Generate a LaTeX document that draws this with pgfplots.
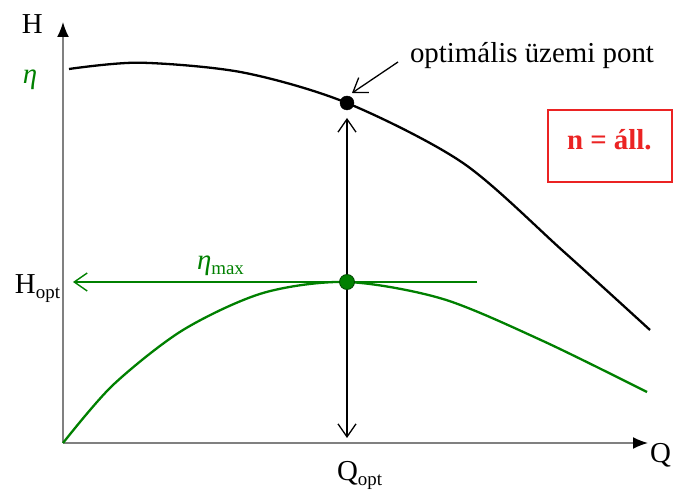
\documentclass[border=0pt]{standalone}
\usepackage{fontspec}
\setmainfont{Liberation Serif}
\usepackage{pgfplots}
\pgfplotsset{compat=1.18}
\usetikzlibrary{arrows.meta}
\definecolor{cgreen}{RGB}{0,128,0}
\definecolor{cdkgreen}{RGB}{0,70,0}
\definecolor{cred}{RGB}{235,35,35}
\definecolor{cgray}{RGB}{128,128,128}
\newcommand{\sub}[1]{\raisebox{-5bp}{\fontsize{19}{19}\selectfont #1}}
\tikzset{lbl/.style={inner sep=0pt, outer sep=0pt, font=\fontsize{29}{34}\selectfont},
  barb/.style={-{Straight Barb[length=13bp,width=18bp]}}}
\begin{document}
\begin{tikzpicture}
\begin{axis}[
  scale only axis, width=585bp, height=421bp,
  xmin=0, xmax=585, ymin=0, ymax=421,
  axis lines*=left, xtick=\empty, ytick=\empty, clip=false,
  axis line style={draw=cgray, line width=1.6bp, -{Latex[length=15bp,width=12bp,color=black]}},
]
% bounding area
\path (axis cs:-63,-46) rectangle (axis cs:612,443);

% characteristic curves
\addplot[black, line width=2.3bp, smooth] coordinates {
 (6,374) (77,380.3) (180,370.5) (284,340) (400,280) (500,192) (587,113)};
\addplot[cgreen, line width=2.3bp, smooth] coordinates {
 (0,0) (50,58) (120,113) (200,150) (284,161) (380,144) (480,102) (584,51)};

% annotations
\draw[cgreen, line width=1.4bp, barb] (axis cs:414,161) -- (axis cs:10,161);
\draw[black, line width=1.3bp, {Straight Barb[length=13bp,width=18bp]}-{Straight Barb[length=13bp,width=18bp]}] (axis cs:284,325) -- (axis cs:284,5);
\draw[black, line width=1.3bp, barb] (axis cs:335,381) -- (axis cs:289,350);
\draw[cred, line width=1.1bp] (axis cs:485,261) rectangle (axis cs:609,333);

% points
\addplot[only marks, mark=*, mark size=7bp, black] coordinates {(284,340)};
\addplot[only marks, mark=*, mark size=7.5bp, mark options={fill=cgreen, draw=cdkgreen, line width=0.8bp}] coordinates {(284,161)};

% labels
\node[lbl, anchor=base west] at (axis cs:-41,409) {H};
\node[lbl, anchor=base west, text=cgreen] at (axis cs:-40,359) {\textit{η}};
\node[lbl, anchor=base west] at (axis cs:-48,149) {H\sub{opt}};
\node[lbl, anchor=base west, text=cgreen] at (axis cs:134,173) {\textit{η}\sub{max}};
\node[lbl, anchor=base west] at (axis cs:274,-37) {Q\sub{opt}};
\node[lbl, anchor=base west] at (axis cs:587,-19) {Q};
\node[lbl, anchor=base west] at (axis cs:347,380) {optimális üzemi pont};
\node[lbl, anchor=base west, text=cred] at (axis cs:504,293) {\bfseries n = áll.};
\end{axis}
\end{tikzpicture}
\end{document}
